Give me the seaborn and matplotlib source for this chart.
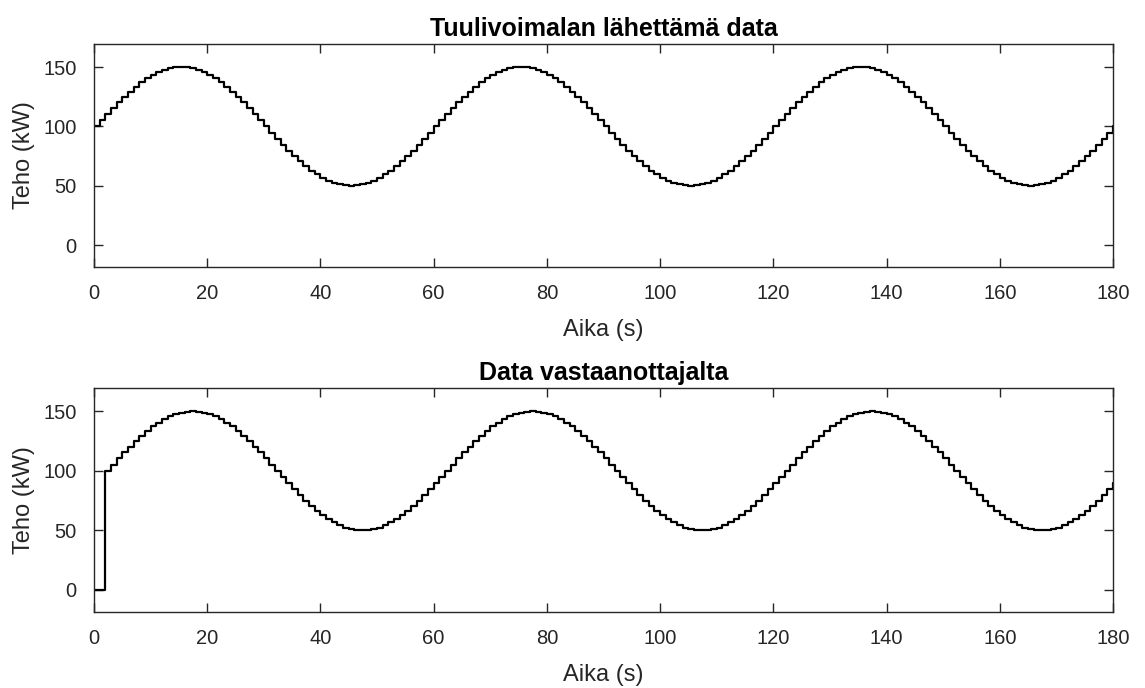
import matplotlib
matplotlib.use("Agg")
import matplotlib.pyplot as plt
import seaborn as sns
import numpy as np

# Time axis (s), one sample per second
time_s = list(range(0, 181))

# Power sent by the wind turbine (kW)
sent_kw = [
    100.0, 105.2, 110.4, 115.5, 120.3, 125.0, 129.4, 133.5, 137.2, 140.5,
    143.3, 145.7, 147.6, 148.9, 149.7, 150.0, 149.7, 148.9, 147.6, 145.7,
    143.3, 140.5, 137.2, 133.5, 129.4, 125.0, 120.3, 115.5, 110.4, 105.2,
    100.0, 94.8, 89.6, 84.5, 79.7, 75.0, 70.6, 66.5, 62.8, 59.5,
    56.7, 54.3, 52.4, 51.1, 50.3, 50.0, 50.3, 51.1, 52.4, 54.3,
    56.7, 59.5, 62.8, 66.5, 70.6, 75.0, 79.7, 84.5, 89.6, 94.8,
    100.0, 105.2, 110.4, 115.5, 120.3, 125.0, 129.4, 133.5, 137.2, 140.5,
    143.3, 145.7, 147.6, 148.9, 149.7, 150.0, 149.7, 148.9, 147.6, 145.7,
    143.3, 140.5, 137.2, 133.5, 129.4, 125.0, 120.3, 115.5, 110.4, 105.2,
    100.0, 94.8, 89.6, 84.5, 79.7, 75.0, 70.6, 66.5, 62.8, 59.5,
    56.7, 54.3, 52.4, 51.1, 50.3, 50.0, 50.3, 51.1, 52.4, 54.3,
    56.7, 59.5, 62.8, 66.5, 70.6, 75.0, 79.7, 84.5, 89.6, 94.8,
    100.0, 105.2, 110.4, 115.5, 120.3, 125.0, 129.4, 133.5, 137.2, 140.5,
    143.3, 145.7, 147.6, 148.9, 149.7, 150.0, 149.7, 148.9, 147.6, 145.7,
    143.3, 140.5, 137.2, 133.5, 129.4, 125.0, 120.3, 115.5, 110.4, 105.2,
    100.0, 94.8, 89.6, 84.5, 79.7, 75.0, 70.6, 66.5, 62.8, 59.5,
    56.7, 54.3, 52.4, 51.1, 50.3, 50.0, 50.3, 51.1, 52.4, 54.3,
    56.7, 59.5, 62.8, 66.5, 70.6, 75.0, 79.7, 84.5, 89.6, 94.8,
    100.0,
]

# Power seen by the receiver (kW), delayed by about 2 s
received_kw = [
    0.0, 0.0,
    100.0, 105.2, 110.4, 115.5, 120.3, 125.0, 129.4, 133.5, 137.2, 140.5,
    143.3, 145.7, 147.6, 148.9, 149.7, 150.0, 149.7, 148.9, 147.6, 145.7,
    143.3, 140.5, 137.2, 133.5, 129.4, 125.0, 120.3, 115.5, 110.4, 105.2,
    100.0, 94.8, 89.6, 84.5, 79.7, 75.0, 70.6, 66.5, 62.8, 59.5,
    56.7, 54.3, 52.4, 51.1, 50.3, 50.0, 50.3, 51.1, 52.4, 54.3,
    56.7, 59.5, 62.8, 66.5, 70.6, 75.0, 79.7, 84.5, 89.6, 94.8,
    100.0, 105.2, 110.4, 115.5, 120.3, 125.0, 129.4, 133.5, 137.2, 140.5,
    143.3, 145.7, 147.6, 148.9, 149.7, 150.0, 149.7, 148.9, 147.6, 145.7,
    143.3, 140.5, 137.2, 133.5, 129.4, 125.0, 120.3, 115.5, 110.4, 105.2,
    100.0, 94.8, 89.6, 84.5, 79.7, 75.0, 70.6, 66.5, 62.8, 59.5,
    56.7, 54.3, 52.4, 51.1, 50.3, 50.0, 50.3, 51.1, 52.4, 54.3,
    56.7, 59.5, 62.8, 66.5, 70.6, 75.0, 79.7, 84.5, 89.6, 94.8,
    100.0, 105.2, 110.4, 115.5, 120.3, 125.0, 129.4, 133.5, 137.2, 140.5,
    143.3, 145.7, 147.6, 148.9, 149.7, 150.0, 149.7, 148.9, 147.6, 145.7,
    143.3, 140.5, 137.2, 133.5, 129.4, 125.0, 120.3, 115.5, 110.4, 105.2,
    100.0, 94.8, 89.6, 84.5, 79.7, 75.0, 70.6, 66.5, 62.8, 59.5,
    56.7, 54.3, 52.4, 51.1, 50.3, 50.0, 50.3, 51.1, 52.4, 54.3,
    56.7, 59.5, 62.8, 66.5, 70.6, 75.0, 79.7, 84.5, 89.6,
]

titles = ["Tuulivoimalan lähettämä data", "Data vastaanottajalta"]
xlabel = "Aika (s)"
ylabel = "Teho (kW)"
xticks = [0, 20, 40, 60, 80, 100, 120, 140, 160, 180]
yticks = [0, 50, 100, 150]

sns.set_theme(style="white")
plt.rcParams["font.family"] = ["Liberation Sans", "DejaVu Sans"]

fig = plt.figure(figsize=(11.45, 6.88), dpi=100)
ax1 = fig.add_axes([94 / 1145, 1 - 267 / 688, 1019 / 1145, 223 / 688])
ax2 = fig.add_axes([94 / 1145, 1 - 612 / 688, 1019 / 1145, 224 / 688])

for ax, series, title in zip([ax1, ax2], [sent_kw, received_kw], titles):
    sns.lineplot(x=time_s, y=series, ax=ax, color="black", linewidth=1.6,
                 drawstyle="steps-post", estimator=None, sort=False)
    ax.set_xlim(0, 180)
    ax.set_ylim(-18.5, 169.5)
    ax.set_xticks(xticks)
    ax.set_yticks(yticks)
    ax.tick_params(direction="in", length=6.5, width=1.0, top=True, right=True,
                   bottom=True, left=True, labelsize=14.5, colors="#262626",
                   labelcolor="#262626", pad=12.5)
    for sp in ax.spines.values():
        sp.set_visible(True)
        sp.set_color("#262626")
        sp.set_linewidth(1.0)
    ax.set_xlabel(xlabel, fontsize=17, color="#262626", labelpad=11)
    ax.set_ylabel(ylabel, fontsize=17, color="#262626", labelpad=6)
    ax.set_title(title, fontsize=18, fontweight="bold", color="black", pad=6)

fig.savefig("out.png", dpi=100, facecolor="white")
